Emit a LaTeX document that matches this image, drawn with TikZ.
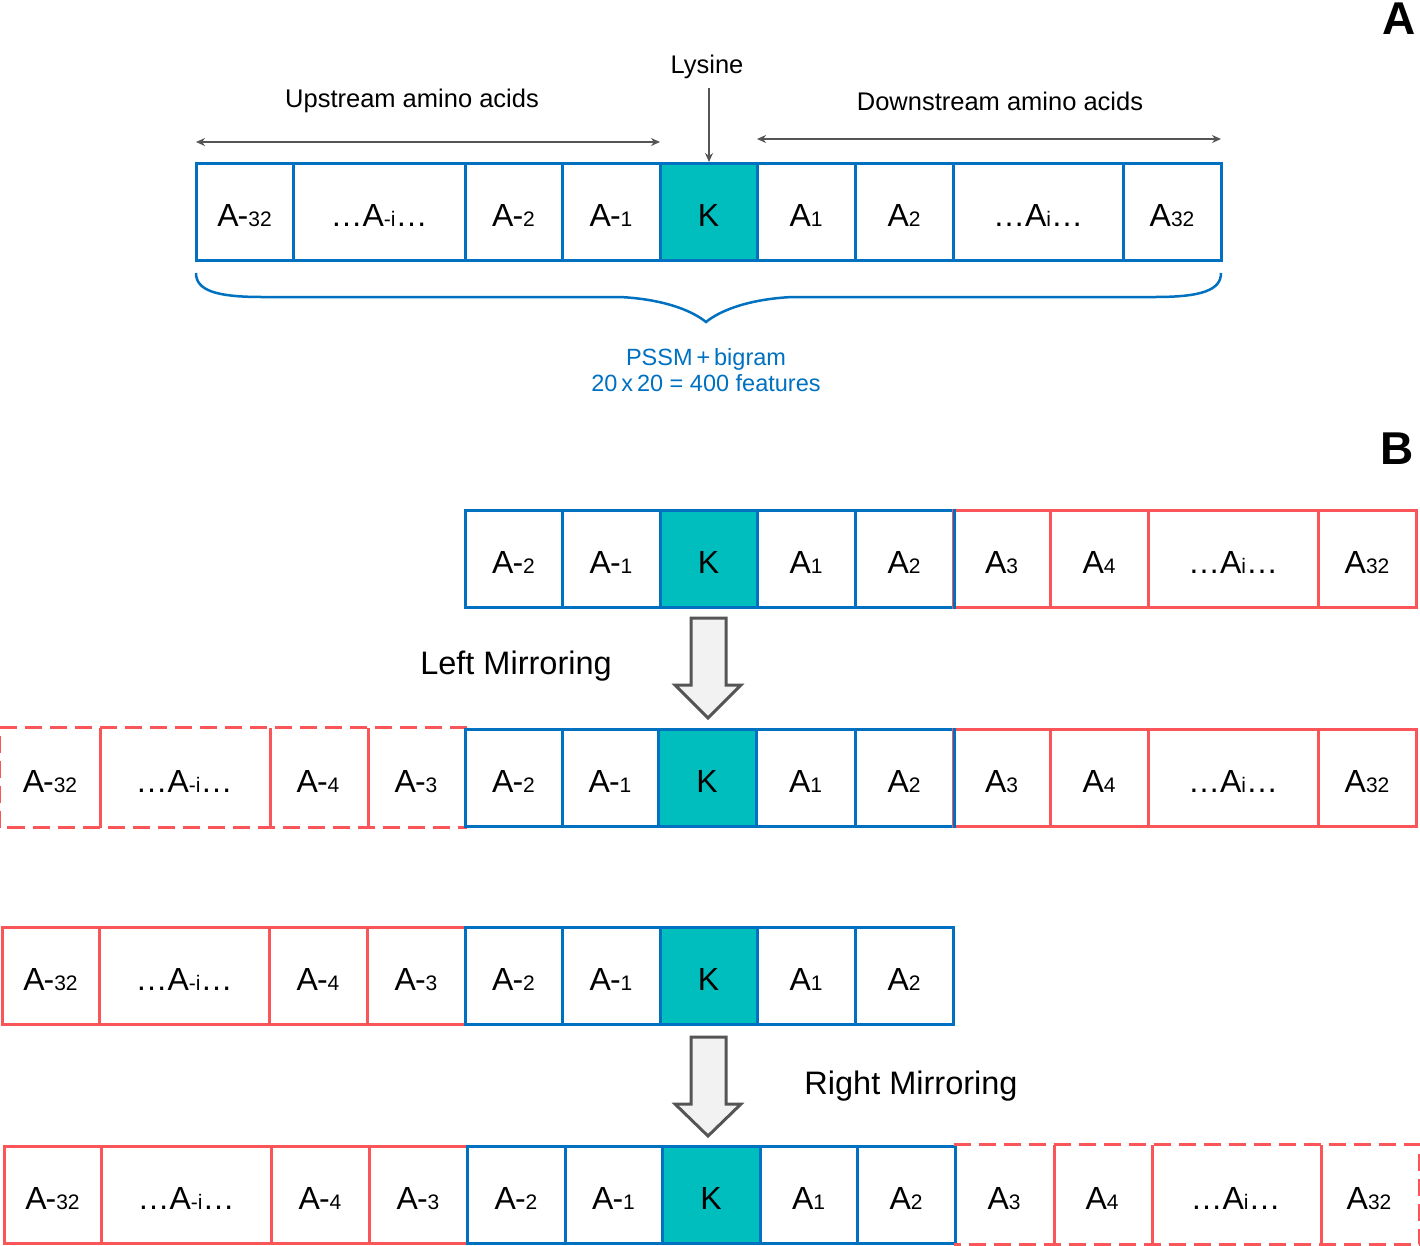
\documentclass[tikz,border=0pt]{standalone}
\usepackage{fontspec}
\setmainfont{Liberation Sans}
\usetikzlibrary{arrows.meta}
\definecolor{cblue}{RGB}{0,112,192}
\definecolor{cred}{RGB}{250,85,88}
\definecolor{cteal}{RGB}{0,190,190}
\definecolor{cgray}{RGB}{85,85,85}
\definecolor{cfill}{RGB}{242,242,242}
\newcommand\bigA{\fontsize{32}{32}\selectfont}
\newcommand\subA{\fontsize{21}{21}\selectfont}
\newcommand\lowbox[1]{\raisebox{-14.5pt}[0pt][0pt]{#1}}
\newcommand\An[1]{\lowbox{{\bigA A\kern-1pt-}{\subA #1}}}
\newcommand\Ap[1]{\lowbox{{\bigA A}{\subA #1}}}
\newcommand\Ain{\lowbox{{\bigA …A}{\subA -i}{\bigA …}}}
\newcommand\Aip{\lowbox{{\bigA …A}{\subA i}{\bigA …}}}
\newcommand\Kk{\lowbox{\bigA K}}
\newcommand\mycell[6]{\node[#1, minimum width={#4-#3}] (#2) at ({(#3+#4)/2},#5) {#6};}
\tikzset{
  cellbase/.style={minimum height=97, inner sep=0, anchor=center, line width=3pt},
  cb/.style={cellbase, draw=cblue},
  ck/.style={cellbase, draw=cblue, fill=cteal},
  cr/.style={cellbase, draw=cred},
  cn/.style={cellbase},
  redline/.style={draw=cred, line width=3pt},
  reddash/.style={redline, dash pattern=on 17pt off 8pt},
  lbl/.style={font=\fontsize{25.5}{25.5}\selectfont},
  mirr/.style={font=\fontsize{32.5}{32.5}\selectfont},
  panel/.style={font=\fontsize{46}{46}\selectfont\bfseries},
  garrow/.style={draw=cgray, line width=2pt},
  blockarrow/.style={draw=cgray, fill=cfill, line width=3pt, line join=miter}
}
\begin{document}
\begin{tikzpicture}[x=1pt,y=-1pt]
\useasboundingbox (0,0) rectangle (1420,1245);
% ---------- Panel A ----------
\node[panel] (pA) at (1399,19) {A};
\mycell{cb}{a1}{196}{293}{212}{\An{32}}
\mycell{cb}{a2}{293}{465}{212}{\Ain}
\mycell{cb}{a3}{465}{562}{212}{\An{2}}
\mycell{cb}{a4}{562}{660}{212}{\An{1}}
\mycell{ck}{a5}{660}{757}{212}{\Kk}
\mycell{cb}{a6}{757}{855}{212}{\Ap{1}}
\mycell{cb}{a7}{855}{953}{212}{\Ap{2}}
\mycell{cb}{a8}{953}{1123}{212}{\Aip}
\mycell{cb}{a9}{1123}{1221}{212}{\Ap{32}}

\node[lbl] (lys) at (707,67) {Lysine};
\coordinate (lysTop) at (709,88);
\draw[garrow, -{Stealth[length=9pt,width=8pt]}] (lysTop) -- (lysTop |- a5.north);
\node[lbl] (up) at (412,101) {Upstream amino acids};
\node[lbl] (down) at (1000,101) {Downstream amino acids};
\coordinate (upL) at (196,142);
\coordinate (upR) at (660,142);
\coordinate (dnL) at (757,139);
\coordinate (dnR) at (1221,139);
\draw[garrow, {Stealth[length=9pt,width=8pt]}-{Stealth[length=9pt,width=8pt]}] (upL) -- (upR);
\draw[garrow, {Stealth[length=9pt,width=8pt]}-{Stealth[length=9pt,width=8pt]}] (dnL) -- (dnR);

\draw[cblue, line width=2.5pt] (196,273) .. controls (196,290) and (215,297) .. (262,297) -- (620,297)
  .. controls (660,299) and (690,309) .. (706,322)
  .. controls (722,309) and (752,299) .. (792,297) -- (1155,297)
  .. controls (1202,297) and (1221,290) .. (1221,273);
\node[text=cblue, font=\fontsize{23.5}{23.5}\selectfont, align=center] (pssm) at (706,370)
  {PSSM\,+\,bigram\\[2pt]20\,x\,20 = 400 features};

% ---------- Panel B ----------
\node[panel] (pB) at (1397,449) {B};
% row 1
\mycell{cb}{b1}{465}{562}{558.5}{\An{2}}
\mycell{cb}{b2}{562}{660}{558.5}{\An{1}}
\mycell{ck}{b3}{660}{757}{558.5}{\Kk}
\mycell{cb}{b4}{757}{855}{558.5}{\Ap{1}}
\mycell{cb}{b5}{855}{953}{558.5}{\Ap{2}}
\mycell{cr}{b6}{953}{1050}{558.5}{\Ap{3}}
\mycell{cr}{b7}{1050}{1148}{558.5}{\Ap{4}}
\mycell{cr}{b8}{1148}{1318}{558.5}{\Aip}
\mycell{cr}{b9}{1318}{1416}{558.5}{\Ap{32}}
\draw[cblue, line width=3pt] (b5.north east) -- (b5.south east);

% left mirroring arrow
\draw[blockarrow] (691,618) -- (726,618) -- (726,685) -- (741,685) -- (708,718) -- (675,685) -- (691,685) -- cycle;
\node[mirr] (lm) at (516,666) {Left Mirroring};

% row 2
\mycell{cn}{c1}{1}{99}{777.5}{\An{32}}
\mycell{cn}{c2}{99}{269}{777.5}{\Ain}
\mycell{cn}{c3}{269}{367}{777.5}{\An{4}}
\mycell{cn}{c4}{367}{465}{777.5}{\An{3}}
\draw[reddash] (c4.north east) -- (c1.north west) -- (c1.south west) -- (c4.south east);
\foreach \n in {c1,c2,c3} \draw[redline] (\n.north east) -- (\n.south east);
\mycell{cb}{c5}{465}{562}{777.5}{\An{2}}
\mycell{cb}{c6}{562}{658}{777.5}{\An{1}}
\mycell{ck}{c7}{658}{756}{777.5}{\Kk}
\mycell{cb}{c8}{756}{855}{777.5}{\Ap{1}}
\mycell{cb}{c9}{855}{953}{777.5}{\Ap{2}}
\mycell{cr}{c10}{953}{1050}{777.5}{\Ap{3}}
\mycell{cr}{c11}{1050}{1148}{777.5}{\Ap{4}}
\mycell{cr}{c12}{1148}{1318}{777.5}{\Aip}
\mycell{cr}{c13}{1318}{1416}{777.5}{\Ap{32}}
\draw[cblue, line width=3pt] (c9.north east) -- (c9.south east);

% row 3
\mycell{cr}{d1}{2}{99}{975.5}{\An{32}}
\mycell{cr}{d2}{99}{269}{975.5}{\Ain}
\mycell{cr}{d3}{269}{367}{975.5}{\An{4}}
\mycell{cr}{d4}{367}{465}{975.5}{\An{3}}
\mycell{cb}{d5}{465}{562}{975.5}{\An{2}}
\mycell{cb}{d6}{562}{660}{975.5}{\An{1}}
\mycell{ck}{d7}{660}{757}{975.5}{\Kk}
\mycell{cb}{d8}{757}{855}{975.5}{\Ap{1}}
\mycell{cb}{d9}{855}{953}{975.5}{\Ap{2}}

% right mirroring arrow
\draw[blockarrow] (691,1037) -- (726,1037) -- (726,1104) -- (741,1104) -- (708,1136) -- (675,1104) -- (691,1104) -- cycle;
\node[mirr] (rm) at (911,1086) {Right Mirroring};

% row 4
\mycell{cr}{e1}{4}{101}{1194.5}{\An{32}}
\mycell{cr}{e2}{101}{271}{1194.5}{\Ain}
\mycell{cr}{e3}{271}{369}{1194.5}{\An{4}}
\mycell{cr}{e4}{369}{467}{1194.5}{\An{3}}
\mycell{cb}{e5}{467}{565}{1194.5}{\An{2}}
\mycell{cb}{e6}{565}{662}{1194.5}{\An{1}}
\mycell{ck}{e7}{662}{760}{1194.5}{\Kk}
\mycell{cb}{e8}{760}{857}{1194.5}{\Ap{1}}
\mycell{cb}{e9}{857}{955}{1194.5}{\Ap{2}}
\mycell{cn}{e10}{955}{1053}{1194.5}{\Ap{3}}
\mycell{cn}{e11}{1053}{1151}{1194.5}{\Ap{4}}
\mycell{cn}{e12}{1151}{1320}{1194.5}{\Aip}
\mycell{cn}{e13}{1320}{1418}{1194.5}{\Ap{32}}
\draw[reddash] (e10.north west) -- (e13.north east) -- (e13.south east) -- (e10.south west);
\foreach \n in {e10,e11,e12} \draw[redline] (\n.north east) -- (\n.south east);
\end{tikzpicture}
\end{document}
